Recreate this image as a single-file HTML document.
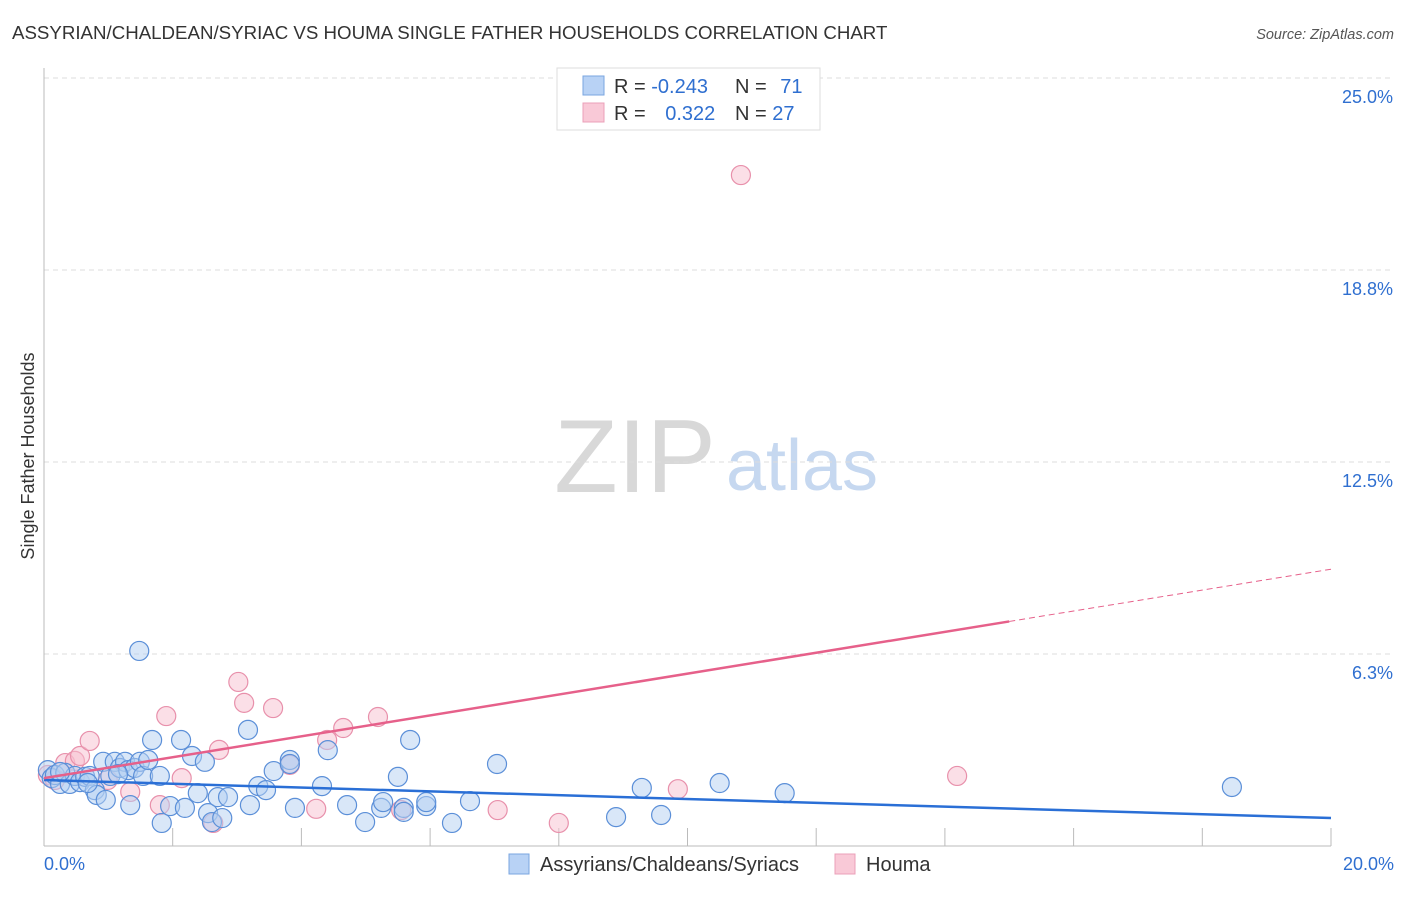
<!DOCTYPE html>
<html><head><meta charset="utf-8"><style>
body{margin:0;background:#fff;font-family:"Liberation Sans",sans-serif;}
svg text{font-family:"Liberation Sans",sans-serif;}
</style></head><body>
<svg id="chart" width="1406" height="892" xmlns="http://www.w3.org/2000/svg">
<text x="12" y="39" font-size="18.7" fill="#333">ASSYRIAN/CHALDEAN/SYRIAC VS HOUMA SINGLE FATHER HOUSEHOLDS CORRELATION CHART</text>
<text x="1394" y="39" font-size="14.5" fill="#555" font-style="italic" text-anchor="end">Source: ZipAtlas.com</text>
<g>
<text x="635" y="492" font-size="104" font-family="Liberation Serif" fill="#d8d8d8" text-anchor="middle">ZIP</text>
<text x="802" y="490" font-size="72" fill="#c6d8f0" text-anchor="middle">atlas</text>
</g>
<g id="grid"></g>
<g id="axes"></g>
<g id="marks"></g>
<text transform="translate(34,456) rotate(-90)" font-size="18" fill="#333" text-anchor="middle">Single Father Households</text>
<g>
<rect x="557" y="68" width="263" height="62" fill="#fff" stroke="#ddd"/>
<rect x="583" y="76" width="21" height="19" fill="#b8d2f5" stroke="#7aa6e0"/>
<rect x="583" y="103" width="21" height="19" fill="#f9c9d7" stroke="#eba0b8"/>
<text x="614" y="93" font-size="20" fill="#333">R = <tspan fill="#2f6fd0">-0.243</tspan></text>
<text x="735" y="93" font-size="20" fill="#333">N = <tspan fill="#2f6fd0" dx="8">71</tspan></text>
<text x="614" y="120" font-size="20" fill="#333">R = <tspan fill="#2f6fd0" dx="14">0.322</tspan></text>
<text x="735" y="120" font-size="20" fill="#333">N = <tspan fill="#2f6fd0">27</tspan></text>
</g>
<g>
<rect x="509" y="854" width="20" height="20" fill="#b8d2f5" stroke="#7aa6e0"/>
<text x="540" y="871" font-size="20" fill="#333">Assyrians/Chaldeans/Syriacs</text>
<rect x="835" y="854" width="20" height="20" fill="#f9c9d7" stroke="#eba0b8"/>
<text x="866" y="871" font-size="20" fill="#333">Houma</text>
</g>
</svg>
<script>
const yTicks=[6.25,12.5,18.75,25];
const yTickLabels=["6.3%","12.5%","18.8%","25.0%"];
const xTickLabels=["0.0%","20.0%"];
const blueX=[0.06,0.12,0.17,0.25,0.33,0.40,0.48,0.56,0.64,0.71,0.79,0.82,0.92,0.96,1.03,1.10,1.18,1.26,1.31,1.34,1.41,1.49,1.54,1.62,1.68,1.80,1.83,1.96,2.13,2.19,2.30,2.39,2.50,2.55,2.61,2.70,2.77,2.86,3.17,3.20,3.33,3.45,3.57,3.82,3.90,4.32,4.41,4.71,4.99,5.24,5.27,5.59,5.59,5.69,5.50,5.94,5.94,6.34,6.62,7.04,8.89,9.29,9.59,10.50,11.51,18.46,1.48,0.25,0.68,1.15,3.82];
const blueY=[2.47,2.21,2.31,2.02,2.38,2.02,2.28,2.08,2.25,2.28,1.82,1.66,2.74,1.50,2.28,2.74,2.54,2.74,2.47,1.33,2.54,2.74,2.28,2.80,3.45,2.28,0.75,1.30,3.45,1.24,2.93,1.72,2.74,1.07,0.78,1.59,0.91,1.59,3.78,1.33,1.95,1.82,2.44,2.80,1.24,1.95,3.12,1.33,0.78,1.24,1.43,1.24,1.11,3.45,2.25,1.30,1.43,0.75,1.46,2.67,0.94,1.89,1.01,2.05,1.72,1.92,6.35,2.41,2.05,2.34,2.67];
const pinkX=[0.06,0.17,0.33,0.48,0.56,0.71,0.99,1.34,1.80,1.90,2.14,2.63,2.72,3.02,3.11,3.56,3.82,4.23,4.40,4.65,5.19,5.55,7.05,8.00,9.85,10.83,14.19];
const pinkY=[2.31,2.15,2.70,2.77,2.93,3.42,2.15,1.76,1.33,4.23,2.21,0.75,3.13,5.34,4.66,4.49,2.64,1.21,3.45,3.84,4.20,1.17,1.17,0.75,1.85,21.84,2.28];
const blueFit=[2.15,-0.062];
const pinkFit=[2.21,0.340];
const X0=44,X1=1331,Y0=846,pxPerY=30.72;
const sx=v=>X0+(X1-X0)*v/20;
const sy=v=>Y0-v*pxPerY;
const NS="http://www.w3.org/2000/svg";
function mk(tag,attrs,parent){const e=document.createElementNS(NS,tag);for(const k in attrs)e.setAttribute(k,attrs[k]);parent.appendChild(e);return e;}
const grid=document.getElementById('grid'),axes=document.getElementById('axes'),marks=document.getElementById('marks');
yTicks.forEach((t,i)=>{
 const l=mk('line',{x1:X0,x2:1394,y1:sy(t),y2:sy(t),stroke:'#ddd','stroke-dasharray':'5,4'},grid);
 
 
 const tx=mk('text',{x:1393,y:sy(t)+25,'font-size':18,fill:'#2f6fd0','text-anchor':'end'},axes);
 tx.textContent=yTickLabels[i];
 
 
});
const ya=mk('line',{x1:X0,x2:X0,y1:68,y2:846,stroke:'#bbb'},axes);


const xa=mk('line',{x1:X0,x2:X1,y1:846,y2:846,stroke:'#bbb'},axes);


for(let i=1;i<=10;i++){
 const t=mk('line',{x1:sx(i*2),x2:sx(i*2),y1:828,y2:846,stroke:'#bbb'},axes);
 
 
}
[[0,'start',44],[20,'end',1394]].forEach((d,i)=>{
 const tx=mk('text',{x:d[2],y:870,'font-size':18,fill:'#2f6fd0','text-anchor':d[1]},axes);
 tx.textContent=xTickLabels[i];
 
 
});
function pts(xs,ys,fill,stroke,name){
 xs.forEach((x,i)=>{
  const c=mk('circle',{cx:sx(x),cy:sy(ys[i]),r:9.5,fill:fill,'fill-opacity':0.5,stroke:stroke,'stroke-width':1.2},marks);
  
  
 });
}
pts(pinkX,pinkY,'#f7bfd0','#e890ab','houma-point');
pts(blueX,blueY,'#b3cff2','#5b8fd8','assyrian-point');
const bl=mk('line',{x1:sx(0),y1:sy(blueFit[0]),x2:sx(20),y2:sy(blueFit[0]+20*blueFit[1]),stroke:'#2a6fd6','stroke-width':2.5},marks);


const pl=mk('line',{x1:sx(0),y1:sy(pinkFit[0]),x2:sx(15),y2:sy(pinkFit[0]+15*pinkFit[1]),stroke:'#e6608a','stroke-width':2.5},marks);


const pd=mk('line',{x1:sx(15),y1:sy(pinkFit[0]+15*pinkFit[1]),x2:sx(20),y2:sy(pinkFit[0]+20*pinkFit[1]),stroke:'#e6608a','stroke-width':1,'stroke-dasharray':'6,4'},marks);


</script>
</body></html>
